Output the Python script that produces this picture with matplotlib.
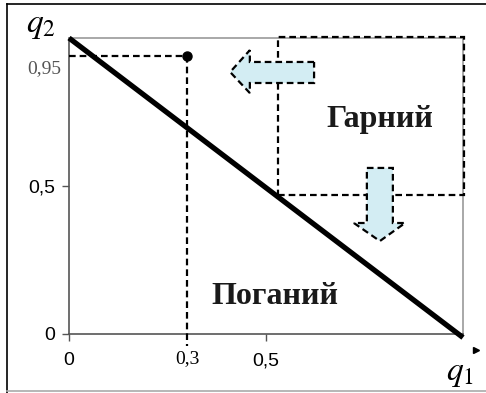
import matplotlib
matplotlib.use("Agg")
import matplotlib.pyplot as plt
from matplotlib.patches import Polygon, Rectangle
from matplotlib.lines import Line2D

plt.rcParams['mathtext.fontset'] = 'stix'

# ---- dados ----
linha_q1 = [0.0, 1.0]          # fronteira q1 + q2 = 1
linha_q2 = [1.0, -0.012]
ponto_q1 = 0.3
ponto_q2 = 0.94
canto_bom = (0.53, 0.47)       # canto inferior esquerdo da regiao "Гарний"
xticks = [0, 0.5]
xtick_labels = ["0", "0,5"]
yticks = [0, 0.5]
ytick_labels = ["0", "0,5"]
rotulo_ponto_x = "0,3"
rotulo_ponto_y = "0,95"
regioes = {"Гарний": (0.789, 0.723), "Поганий": (0.523, 0.128)}

fig = plt.figure(figsize=(4.86, 3.93), dpi=100)
ax = fig.add_axes([69 / 486, 1 - 334 / 393, 394 / 486, 296 / 393])
ax.set_xlim(0, 1)
ax.set_ylim(0, 1)

for lado in ['top', 'right']:
    ax.spines[lado].set_color('#9a9a9a')
    ax.spines[lado].set_linewidth(1.2)
for lado in ['left', 'bottom']:
    ax.spines[lado].set_color('#555555')
    ax.spines[lado].set_linewidth(1.2)

ax.set_xticks(xticks)
ax.set_xticklabels(xtick_labels, fontsize=14, family='Liberation Sans')
ax.set_yticks(yticks)
ax.set_yticklabels(ytick_labels, fontsize=14, family='Liberation Sans')
ax.tick_params(length=5, width=1, color='#555555', pad=5)
ax.tick_params(axis='x', pad=8)

# regiao boa (retangulo tracejado)
ax.add_patch(Rectangle(canto_bom, 1.003 - canto_bom[0], 1.003 - canto_bom[1],
                       fill=False, edgecolor='black', linestyle=(0, (3, 1.8)),
                       linewidth=1.6, clip_on=False, zorder=3))

# fronteira
ax.plot(linha_q1, linha_q2, color='black', linewidth=3.8, clip_on=False,
        solid_capstyle='butt', zorder=4)

# linhas tracejadas ate o ponto
ax.plot([0, ponto_q1], [ponto_q2, ponto_q2], color='black', linewidth=1.6,
        linestyle=(0, (3, 1.8)), clip_on=False, zorder=3)
ax.plot([ponto_q1, ponto_q1], [ponto_q2, -0.04], color='black', linewidth=1.6,
        linestyle=(0, (3, 1.8)), clip_on=False, zorder=3)
ax.plot([ponto_q1], [ponto_q2], 'o', color='black', markersize=6.5,
        clip_on=False, zorder=5)

# setas
azul = '#d3edf3'
seta_esq = [(0.622, 0.919), (0.459, 0.919), (0.459, 0.959), (0.409, 0.885),
            (0.459, 0.814), (0.459, 0.848), (0.622, 0.848)]
seta_baixo = [(0.756, 0.561), (0.822, 0.561), (0.822, 0.375), (0.853, 0.375),
              (0.789, 0.314), (0.723, 0.375), (0.756, 0.375)]
for pts in (seta_esq, seta_baixo):
    ax.add_patch(Polygon(pts, closed=True, facecolor=azul, edgecolor='black',
                         linestyle=(0, (3, 1.8)), linewidth=1.6, zorder=6,
                         clip_on=False))

for nome, (tx, ty) in regioes.items():
    ax.text(tx, ty, nome, ha='center', va='center', fontsize=23,
            fontweight='bold', family='Liberation Serif', color='#1a1a1a', zorder=7)

ax.text(ponto_q1, -0.055, rotulo_ponto_x, ha='center', va='top', fontsize=14,
        family='Liberation Serif')
ax.text(-0.02, 0.895, rotulo_ponto_y, ha='right', va='center', fontsize=14,
        family='Liberation Serif', color='#555555')

# rotulos dos eixos
fig.text(26 / 486, 1 - 32 / 393, r'$q_2$', fontsize=24, ha='left', va='baseline')
fig.text(446 / 486, 1 - 380 / 393, r'$q_1$', fontsize=24, ha='left', va='baseline')
fig.add_artist(Line2D([476 / 486], [1 - 350 / 393], marker='>', color='black',
                      markersize=4, linestyle='none'))

# moldura externa
fig.add_artist(Line2D([7 / 486, 1], [1 - 4 / 393, 1 - 4 / 393], color='black', linewidth=1.2))
fig.add_artist(Line2D([7 / 486, 7 / 486], [0, 1 - 4 / 393], color='black', linewidth=1.2))
fig.add_artist(Line2D([7 / 486, 1], [2 / 393, 2 / 393], color='#aaaaaa', linewidth=1.2))

plt.savefig("out.png", dpi=100)
plt.close()
